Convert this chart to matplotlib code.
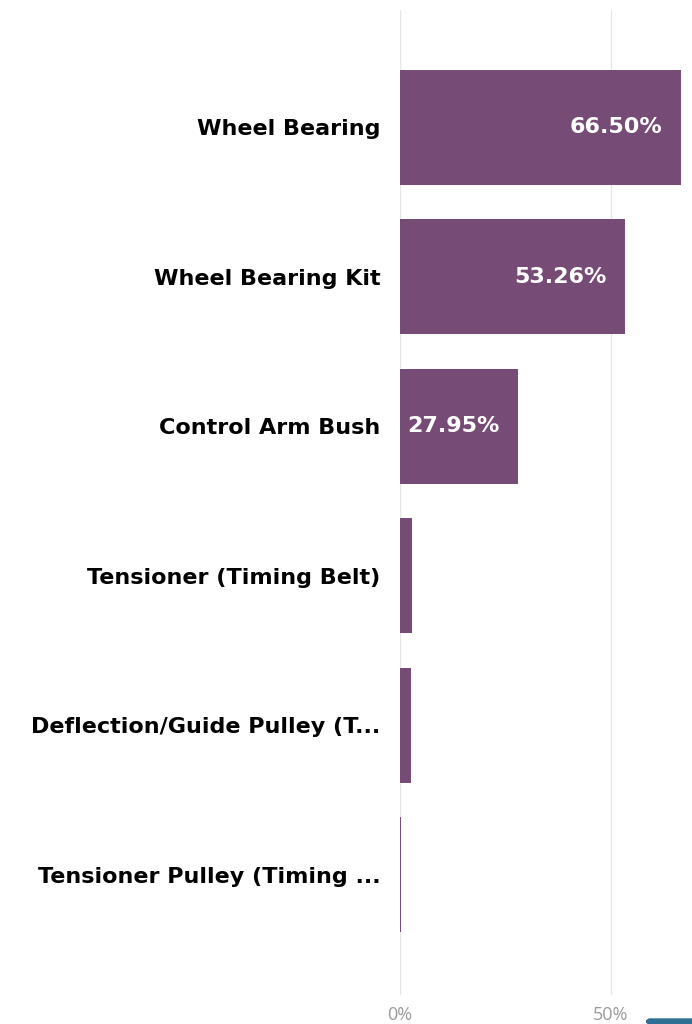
import matplotlib
matplotlib.use("Agg")
import matplotlib.pyplot as plt
from matplotlib.patches import FancyBboxPatch

categories = ["Wheel Bearing", "Wheel Bearing Kit", "Control Arm Bush",
              "Tensioner (Timing Belt)", "Deflection/Guide Pulley (T...",
              "Tensioner Pulley (Timing ..."]
shares = [66.50, 53.26, 27.95, 2.8, 2.6, 0.3]
show_label = [True, True, True, False, False, False]
ticks = [0, 50]
tick_labels = ["0%", "50%"]

bar_color = "#764B75"

fig = plt.figure(figsize=(6.92, 10.24), dpi=100)
W, H = 692, 1024
# axes from x=400 to the right edge, y=10 to 995
ax = fig.add_axes([400 / W, (H - 995) / H, (W - 400) / W, (995 - 10) / H])

ypos = list(range(len(categories)))
ax.barh(ypos, shares, height=0.77, color=bar_color, zorder=3)
ax.set_xlim(0, (W - 400) / 4.22)
ax.set_ylim(5.806, -0.786)

for y, v, s in zip(ypos, shares, show_label):
    if s:
        ax.annotate(f"{v:.2f}%", (v, y), xytext=(-13, 0), textcoords="offset points",
                    ha="right", va="center", color="white", fontsize=16,
                    fontweight="bold", family="DejaVu Sans")

ax.set_yticks(ypos)
ax.set_yticklabels(categories, fontsize=16, fontweight="bold", color="black",
                   family="DejaVu Sans")
ax.tick_params(axis="y", length=0, pad=14)

ax.set_xticks(ticks)
ax.set_xticklabels(tick_labels, fontsize=13, color="#9a9a9a", family="Open Sans")
ax.tick_params(axis="x", length=0, pad=8)
ax.grid(axis="x", color="#e6e6e6", linewidth=1, zorder=0)
for sp in ax.spines.values():
    sp.set_visible(False)

# blue widget edge in the bottom right corner
fig.add_artist(FancyBboxPatch((647 / W, 0), 60 / W, 5 / H,
                              boxstyle="round,pad=0,rounding_size=0.004",
                              transform=fig.transFigure, color="#2f6f95",
                              clip_on=False))

fig.savefig("out.png", dpi=100)
